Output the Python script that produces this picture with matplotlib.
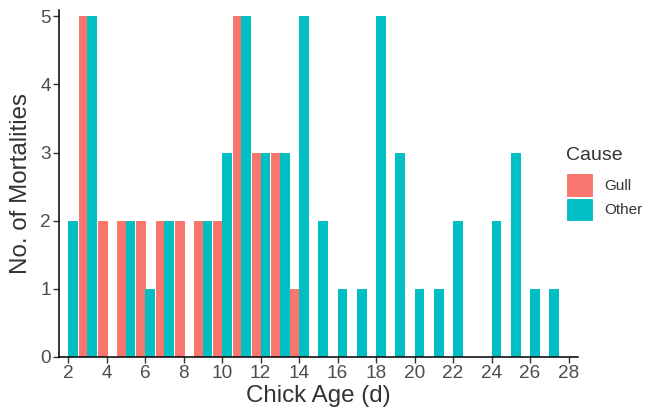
import matplotlib
matplotlib.use("Agg")
import matplotlib.pyplot as plt
import numpy as np
from matplotlib.patches import Patch

ages = list(range(2, 29))
gull = [0, 5, 2, 2, 2, 2, 2, 2, 2, 5, 3, 3, 1, 0, 0, 0, 0, 0, 0, 0, 0, 0, 0, 0, 0, 0, 0]
other = [2, 5, 0, 2, 1, 2, 0, 2, 3, 5, 3, 3, 5, 2, 1, 1, 5, 3, 1, 1, 2, 0, 2, 3, 1, 1, 0]
causes = ["Gull", "Other"]
colors = ["#F8766D", "#00BFC4"]
xticks = list(range(2, 29, 2))
yticks = [0, 1, 2, 3, 4, 5]

plt.rcParams['font.family'] = ['Liberation Sans', 'DejaVu Sans']

fig = plt.figure(figsize=(6.45, 4.13), dpi=100)
ax = fig.add_axes([0.0915, 0.1356, 0.805, 0.84])

x = np.array(ages, dtype=float)
w = 0.45
for vals, off, col in zip([gull, other], [-w / 2, w / 2], colors):
    ax.bar(x + off, vals, width=w, color=col, edgecolor=col, linewidth=0.7, zorder=2)

ax.set_xlim(1.53, 28.5)
ax.set_ylim(0, 5.09)
ax.set_xticks(xticks)
ax.set_yticks(yticks)
for s in ["top", "right"]:
    ax.spines[s].set_visible(False)
for s in ["left", "bottom"]:
    ax.spines[s].set_color("black")
    ax.spines[s].set_linewidth(1.1)
    ax.spines[s].set_zorder(3)
ax.tick_params(axis="both", labelsize=13.7, labelcolor="#4D4D4D", color="#333333",
               length=4, width=1.0, pad=2)
ax.set_xlabel("Chick Age (d)", fontsize=17.4, color="#333333", labelpad=2)
ax.set_ylabel("No. of Mortalities", fontsize=17.4, color="#333333", labelpad=6)

handles = [Patch(facecolor=c, edgecolor="white", linewidth=0.8, label=l) for c, l in zip(colors, causes)]
leg = fig.legend(handles=handles, title="Cause", loc="upper left",
                 bbox_to_anchor=(0.868, 0.66), frameon=False, fontsize=11,
                 title_fontsize=14, handlelength=1.75, handleheight=2.0,
                 handletextpad=0.75, labelspacing=0.05, borderaxespad=0)
leg._legend_box.align = "left"
leg._legend_box.sep = 7
for t in leg.get_texts():
    t.set_color("#333333")
leg.get_title().set_color("#333333")

fig.savefig("out.png", dpi=100)
